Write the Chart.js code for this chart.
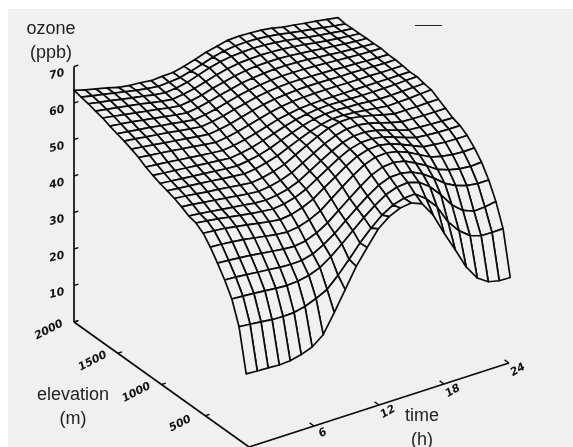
<!DOCTYPE html>
<html>
<head>
<meta charset="utf-8">
<script src="https://cdn.jsdelivr.net/npm/chart.js@4"></script>
<style>
html,body{margin:0;padding:0;background:#fff;overflow:hidden}
#wrap{position:relative;width:573px;height:447px;overflow:hidden}
#paper{position:absolute;left:8px;top:9px;right:0;bottom:0;background:#f0f0f0}
#c{position:absolute;left:0;top:0;display:block}
#dash{position:absolute;left:415px;top:25px;width:27px;height:1px;background:#222}
</style>
</head>
<body>
<div id="wrap"><div id="paper"></div><div id="dash"></div><canvas id="c" width="573" height="447"></canvas></div>
<script>
const ozoneTicks = [10,20,30,40,50,60,70];
const elevationTicks = [500,1000,1500,2000];
const timeTicks = [6,12,18,24];
const hours = [0,1.02,2.03,3.05,4.06,5.08,6.09,7.11,8.13,9.14,10.16,11.17,12.19,13.2,14.22,15.24,16.25,17.27,18.28,19.3,20.31,21.33,22.35,23.36,24.38];
const elevations = [2000,1918,1836,1754,1672,1590,1508,1426,1344,1262,1180,1098,1016,934,852,770,688,606,524,442,360,278,196,114,32];
const row00 = [63.5,62.6,61.9,61.2,60.4,59.9,59.7,59.3,59.5,59.6,60.3,61.2,62.2,62.9,63.6,63.7,63.6,63.4,63,62.3,61.9,61.4,61,60.5,60];
const row01 = [63,62.4,61.8,61.2,60.6,60,59.5,59.1,59.3,59.6,60.4,61.3,62.3,63,63.4,63.5,63.4,63.1,62.7,62.1,61.6,61.1,60.6,60.1,59.7];
const row02 = [62.6,62,61.5,60.9,60.3,59.8,59.2,58.8,59.1,59.7,60.7,61.7,62.4,62.9,63.1,63.2,63.1,62.8,62.4,61.9,61.4,60.9,60.5,60.1,59.8];
const row03 = [62,61.5,61,60.5,60,59.4,58.8,58.4,58.8,59.4,60.3,61.2,61.9,62.4,62.6,62.7,62.6,62.4,62.1,61.7,61.2,60.8,60.4,60.1,59.8];
const row04 = [61.5,61,60.5,60,59.5,59,58.4,58,58.4,59,59.9,60.6,61.3,61.8,62.1,62.2,62.2,62,61.7,61.4,61,60.7,60.4,60.1,59.9];
const row05 = [60.7,60.3,59.9,59.4,58.9,58.4,57.9,57.5,57.9,58.6,59.4,60.1,60.8,61.2,61.5,61.7,61.7,61.6,61.4,61.1,60.8,60.5,60.3,60.1,59.9];
const row06 = [60,59.6,59.2,58.8,58.3,57.9,57.4,57,57.4,58,58.8,59.6,60.2,60.7,61,61.2,61.2,61.1,61,60.8,60.6,60.4,60.2,60.1,60];
const row07 = [59.4,59,58.6,58.2,57.8,57.3,56.9,56.5,56.9,57.5,58.3,59,59.7,60.2,60.5,60.7,60.7,60.6,60.5,60.4,60.2,60.1,59.9,59.8,59.7];
const row08 = [58.6,58.2,57.8,57.4,57,56.6,56.2,55.8,56.2,56.8,57.6,58.4,59.1,59.6,59.9,60.1,60.2,60.2,60.1,60,60,59.9,59.8,59.7,59.7];
const row09 = [57.7,57.3,57,56.6,56.2,55.8,55.4,55,55.4,56,56.8,57.6,58.4,59,59.4,59.6,59.7,59.7,59.7,59.6,59.6,59.6,59.5,59.5,59.5];
const row10 = [56.5,56.2,55.9,55.5,55.2,54.8,54.5,54.2,54.6,55.2,56,56.9,57.8,58.4,58.9,59.1,59.2,59.2,59.2,59.2,59.2,59.2,59.2,59.2,59.2];
const row11 = [55.6,55.3,55,54.7,54.4,54.1,53.8,53.5,53.9,54.5,55.4,56.4,57.4,58.2,58.8,59.2,59.3,59.2,59.1,59,59,59,59.1,59.2,59.3];
const row12 = [54.8,54.5,54.2,53.9,53.6,53.3,53,52.8,53.2,53.8,54.7,55.9,57,58,58.8,59.2,59.3,59.1,59,58.7,58.5,58.5,58.6,58.7,58.8];
const row13 = [54.2,53.9,53.6,53.3,53,52.6,52.3,52,52.4,53.1,54,55.3,56.6,57.8,58.7,59.3,59.3,59.1,58.7,58.3,57.9,58,58.1,58.3,58.5];
const row14 = [53.5,53.2,52.8,52.4,52.1,51.7,51.3,51,51.4,52.1,53.1,54.7,56.3,57.8,59.1,59.8,59.9,59.4,58.7,57.9,57.2,57.2,57.2,57.3,57.3];
const row15 = [52.6,52.3,51.9,51.5,51.1,50.7,50.3,50,50.4,51.1,52.2,53.9,55.6,57.2,58.5,59.3,59.4,58.9,58.1,57.2,56.4,56.3,56.2,56.2,56.2];
const row16 = [51.5,51.2,50.8,50.4,50,49.6,49.2,49,49.4,50.1,51.3,53.1,54.9,56.6,58,58.8,58.9,58.4,57.5,56.5,55.6,55.4,55.2,55.1,55];
const row17 = [51,50.6,50.2,49.7,49.2,48.7,48.3,48,48.4,49.2,50.5,52.4,54.3,56.1,57.6,58.4,58.5,58,57,55.9,54.9,54.6,54.4,54.3,54.3];
const row18 = [49.6,49.3,49,48.5,48,47.4,46.9,46.5,46.9,47.8,49.2,51.3,53.3,55.3,57,57.9,58.1,57.5,56.4,55.1,53.8,53.4,53.1,53,53];
const row19 = [47.2,47,46.7,46.3,45.8,45.3,44.8,44.5,44.9,45.9,47.4,49.7,52,54.2,56.1,57.2,57.4,56.8,55.6,54,52.4,51.6,51.1,50.9,51];
const row20 = [44.2,44,43.7,43.4,43,42.6,42.2,42,42.5,43.7,45.5,47.9,50.3,52.6,54.7,55.9,56.2,55.6,54.1,52.4,50.4,49.3,48.6,48.3,48.5];
const row21 = [41,40.8,40.5,40.2,39.9,39.6,39.4,39.5,40.3,41.9,44,46.5,49,51.3,53.3,54.5,54.6,54,52.5,50.4,48,46.4,45.4,45,45];
const row22 = [37.2,37,36.8,36.5,36.2,36,36.2,36.8,38,40,42.5,45.2,47.8,50.1,52.1,53.2,53.5,52.6,50.4,47.2,43.5,41,39.8,40,40.5];
const row23 = [31,30.7,30.4,30,29.9,30,30.7,31.9,33.4,36.3,39.7,43.2,46.3,48.9,50.7,51.6,51.8,49.5,46.3,41.2,37.8,35.5,34.5,34.4,34.5];
const row24 = [19.5,19.3,19.2,19,19.2,19.9,21,23.4,28.5,33.8,39.2,43.4,47.5,49.9,51.3,51.7,50.5,46.4,40.5,35,29.3,25.3,23.3,22.6,22.5];
const ozoneRows = [row00,row01,row02,row03,row04,row05,row06,row07,row08,row09,row10,row11,row12,row13,row14,row15,row16,row17,row18,row19,row20,row21,row22,row23,row24];

// oblique projection of (hour, elevation, ozone) onto the two linear chart scales
function project(t, e, o) {
  return {
    x: 74 + (2000 - e) * 0.0875 + t * 10.83,
    y: 322 + (2000 - e) * 0.0625 - t * 3.5 - o * 3.65
  };
}

const INK = '#0c0c0c';
const datasets = [];
// nearest cell first: Chart.js paints the last dataset first, so near cells hide far ones
for (let i = ozoneRows.length - 2; i >= 0; i--) {
  for (let j = 0; j < hours.length - 1; j++) {
    const a = project(hours[j], elevations[i], ozoneRows[i][j]);
    const b = project(hours[j + 1], elevations[i], ozoneRows[i][j + 1]);
    const c = project(hours[j + 1], elevations[i + 1], ozoneRows[i + 1][j + 1]);
    const d = project(hours[j], elevations[i + 1], ozoneRows[i + 1][j]);
    datasets.push({
      data: [a, b, c, d, a],
      borderColor: INK, borderWidth: 1.7, backgroundColor: '#f0f0f0',
      fill: 'shape', pointRadius: 0, tension: 0, borderJoinStyle: 'round', borderCapStyle: 'round'
    });
  }
}
function axisLine(p, q, w) {
  datasets.push({ data: [p, q], borderColor: INK, borderWidth: w, pointRadius: 0, fill: false, tension: 0 });
}
axisLine(project(0, 2000, 0), project(0, 2000, 70), 1.7);
axisLine(project(0, 2000, 0), project(0, 0, 0), 1.7);
axisLine(project(0, 0, 0), project(24, 0, 0), 1.7);
ozoneTicks.forEach(v => axisLine(project(0, 2000, v), project(0.4, 2000, v), 1.4));
axisLine(project(0, 2000, 0), project(0.4, 2000, 0), 1.4);
elevationTicks.forEach(v => axisLine(project(0, v, 0), project(0.4, v, 0), 1.4));
timeTicks.forEach(v => axisLine(project(v, 0, 0), project(v, 50, 0), 1.4));

const tickFont = '11px "DejaVu Sans"';
const titleFont = '18px "Liberation Sans"';
const titles = [
  ['ozone', 51, 29], ['(ppb)', 51, 53],
  ['elevation', 73, 395], ['(m)', 73, 419],
  ['time', 422, 416], ['(h)', 422, 440]
];
const labelsPlugin = {
  id: 'labels3d',
  afterDatasetsDraw(chart) {
    const ctx = chart.ctx;
    const xs = chart.scales.x, ys = chart.scales.y;
    const put = (txt, p, dx, dy, rot) => {
      ctx.save();
      ctx.translate(xs.getPixelForValue(p.x) + dx, ys.getPixelForValue(p.y) + dy);
      ctx.rotate(rot * Math.PI / 180);
      ctx.fillText(txt, 0, 0);
      ctx.restore();
    };
    ctx.save();
    ctx.fillStyle = '#111';
    ctx.textAlign = 'center';
    ctx.textBaseline = 'middle';
    ctx.font = 'italic bold ' + tickFont;
    ozoneTicks.forEach(v => put(String(v), project(0, 2000, v), -17, 8, -12));
    elevationTicks.forEach(v => put(String(v), project(0, v, 0), -25, 8, -27));
    timeTicks.forEach(v => put(String(v), project(v, 0, 0), 9, 7, -30));
    ctx.font = titleFont;
    ctx.fillStyle = '#222';
    titles.forEach(t => ctx.fillText(t[0], t[1], t[2]));
    ctx.restore();
  }
};

new Chart(document.getElementById('c'), {
  type: 'line',
  data: { datasets },
  options: {
    responsive: false, animation: false, events: [],
    layout: { padding: 0 },
    plugins: { legend: { display: false }, tooltip: { enabled: false }, title: { display: false } },
    scales: {
      x: { type: 'linear', display: false, min: 0, max: 573 },
      y: { type: 'linear', display: false, min: 0, max: 447, reverse: true }
    }
  },
  plugins: [labelsPlugin]
});
</script>
</body>
</html>
